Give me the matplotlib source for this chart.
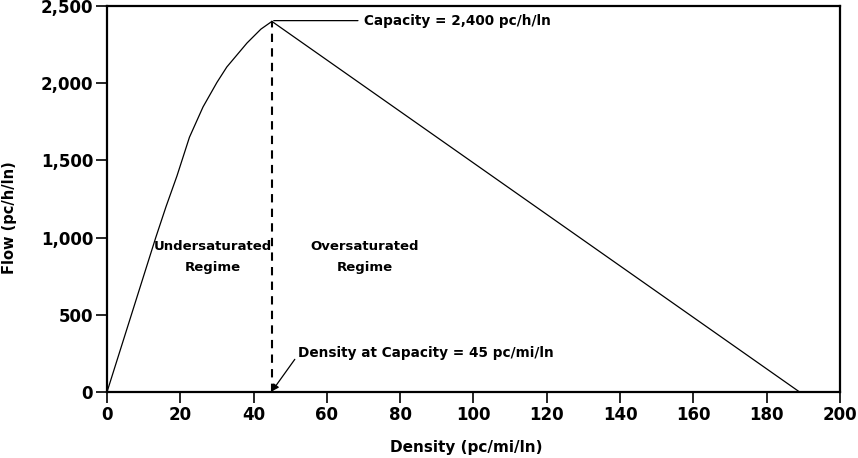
import matplotlib.pyplot as plt

# speed-flow: flow vs density (basic freeway segment)
density_under = [0, 13.3, 16.1, 19.1, 22.5, 26.2, 30, 32.7, 38.2, 42, 45]
flow_under = [0, 1000, 1200, 1400, 1650, 1846, 2005, 2105, 2260, 2350, 2400]
density_over = [45, 189]
flow_over = [2400, 0]

cap_density = 45
cap_flow = 2400

x_ticks = [0, 20, 40, 60, 80, 100, 120, 140, 160, 180, 200]
y_ticks = [0, 500, 1000, 1500, 2000, 2500]
y_tick_labels = ["0", "500", "1,000", "1,500", "2,000", "2,500"]

fig = plt.figure(figsize=(8.58, 4.58), dpi=100)
ax = fig.add_axes([0.1247, 0.144, 0.8543, 0.843])

ax.plot(density_under, flow_under, color="black", linewidth=0.9)
ax.plot(density_over, flow_over, color="black", linewidth=0.9)
ax.plot([cap_density, cap_density], [0, cap_flow], color="black",
        linewidth=1.5, linestyle=(0, (4, 3)))

ax.set_xlim(0, 200)
ax.set_ylim(0, 2500)
ax.set_xticks(x_ticks)
ax.set_xticklabels([str(v) for v in x_ticks], fontsize=12, fontweight="bold")
ax.set_yticks(y_ticks)
ax.set_yticklabels(y_tick_labels, fontsize=12, fontweight="bold")
ax.tick_params(direction="out", length=8, width=1.2, pad=2)

for s in ax.spines.values():
    s.set_linewidth(1.6)

ax.set_xlabel("Density (pc/mi/ln)", fontsize=11, fontweight="bold")
ax.xaxis.set_label_coords(0.49, -0.124)
ax.set_ylabel("Flow (pc/h/ln)", fontsize=10.5, fontweight="bold")
ax.yaxis.set_label_coords(-0.123, 0.453)

# annotations
ax.annotate("Capacity = 2,400 pc/h/ln", xy=(cap_density + 0.5, cap_flow + 5),
            xytext=(70, cap_flow + 5), fontsize=9.8, fontweight="bold",
            va="center", ha="left",
            arrowprops=dict(arrowstyle="-", color="black", lw=0.9,
                            shrinkA=2, shrinkB=0))
ax.annotate("Density at Capacity = 45 pc/mi/ln", xy=(cap_density, 5),
            xytext=(52, 255), fontsize=9.8, fontweight="bold",
            va="center", ha="left",
            arrowprops=dict(arrowstyle="-|>", color="black", lw=0.9,
                            relpos=(0, 0.3), shrinkA=0, shrinkB=0,
                            mutation_scale=10))

ax.text(28.9, 877, "Undersaturated\nRegime", fontsize=9.5, fontweight="bold",
        ha="center", va="center", linespacing=1.8)
ax.text(70.4, 877, "Oversaturated\nRegime", fontsize=9.5, fontweight="bold",
        ha="center", va="center", linespacing=1.8)

fig.savefig("out.png", dpi=100)
